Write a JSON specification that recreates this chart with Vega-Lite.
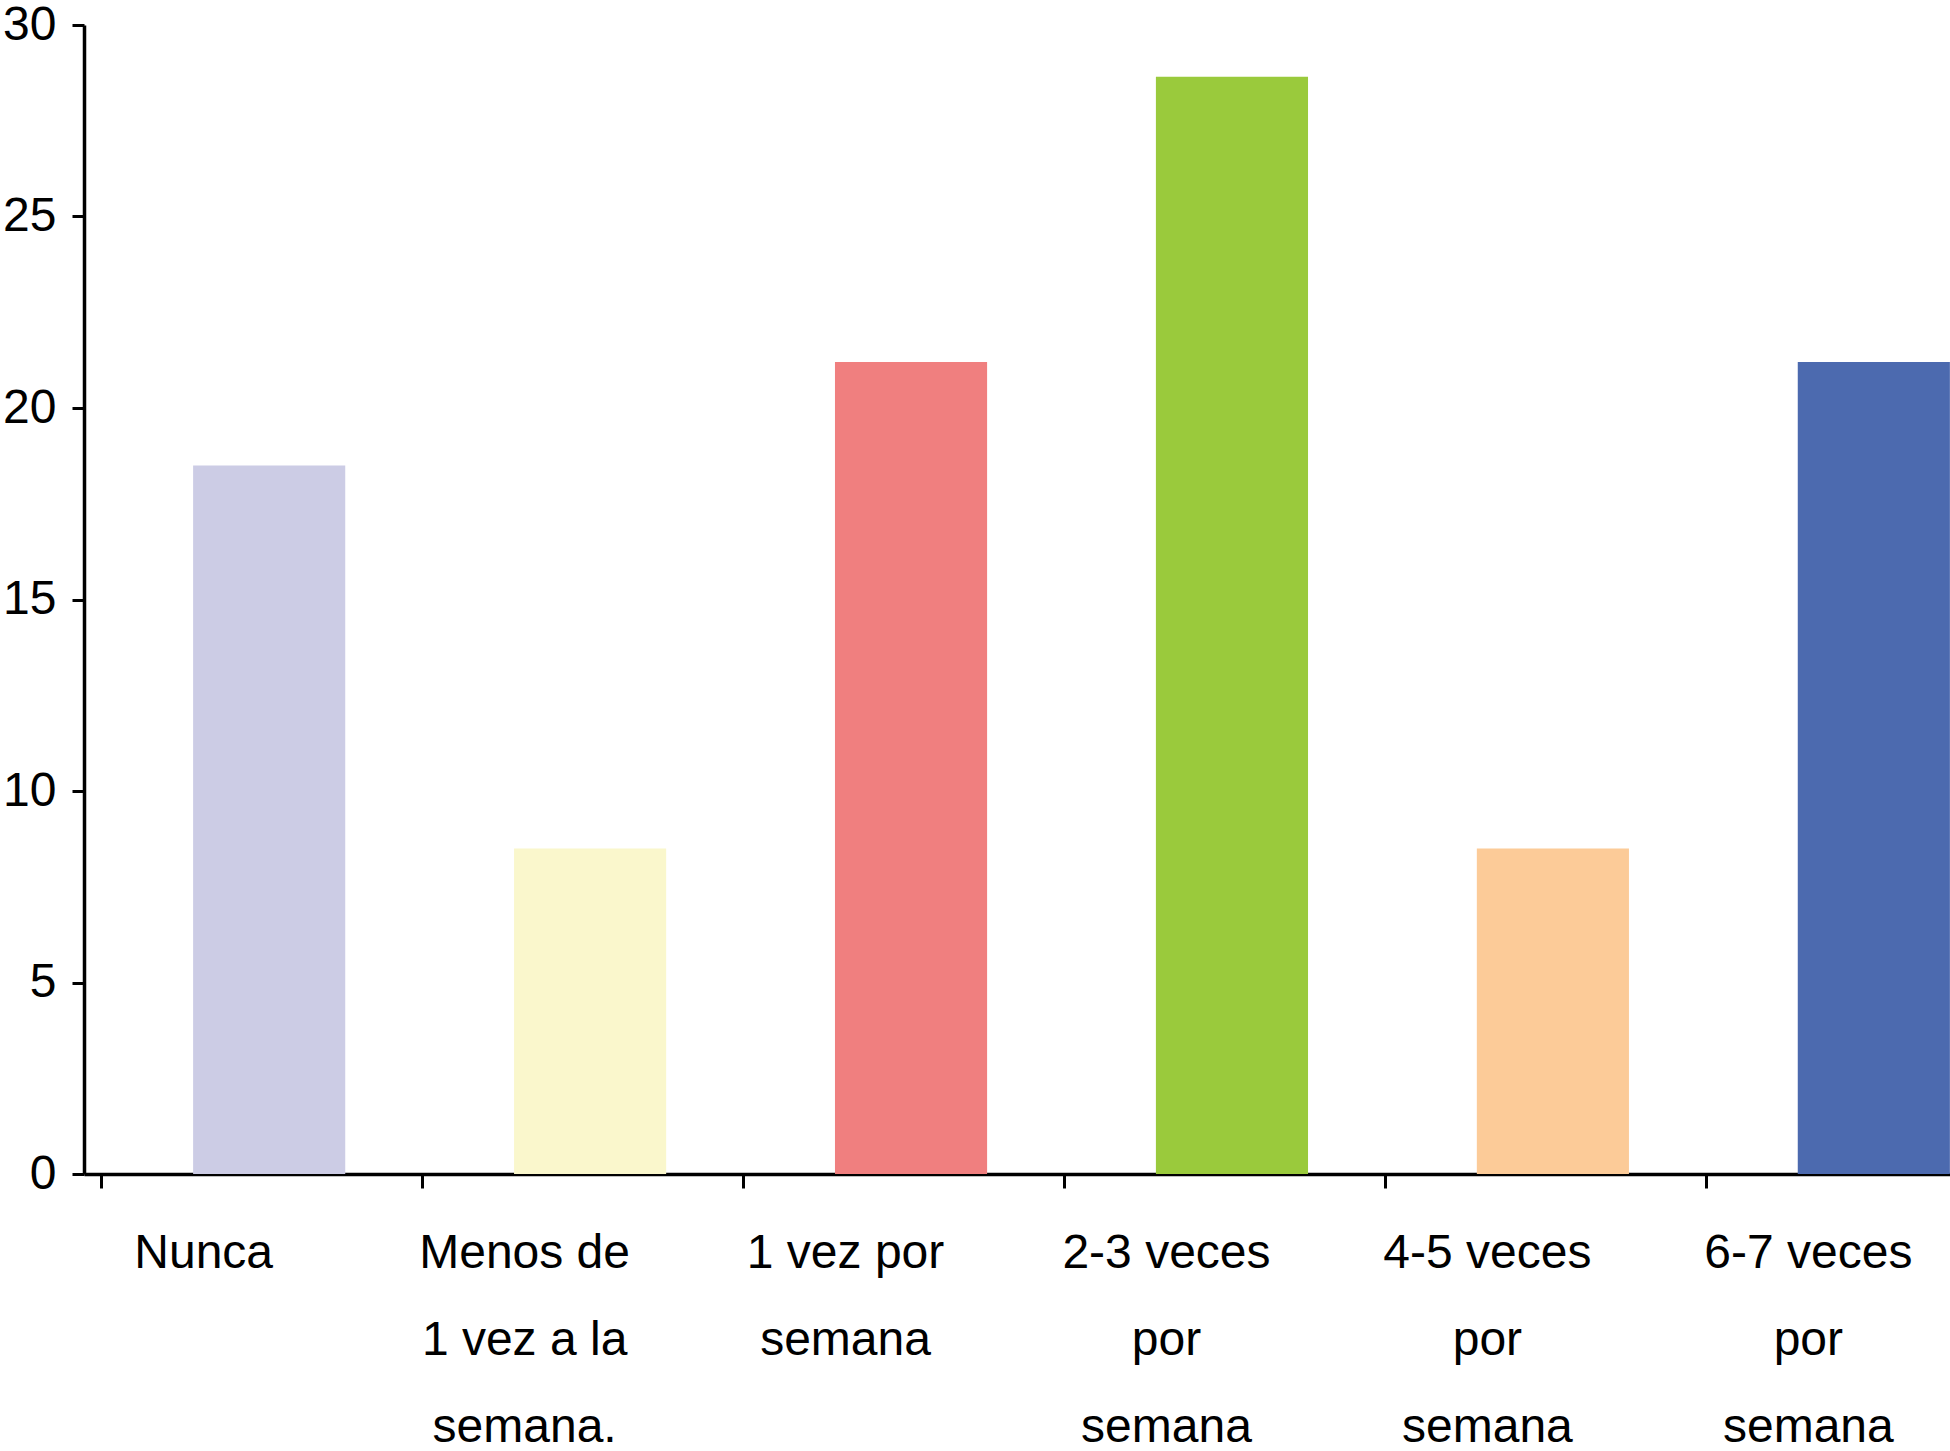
{
  "$schema": "https://vega.github.io/schema/vega-lite/v6.json",
  "width": 1866,
  "height": 1149,
  "autosize": {"type": "none"},
  "padding": {"left": 84, "top": 25, "right": 0, "bottom": 277},
  "background": "white",
  "config": {"view": {"stroke": null}, "font": "Liberation Sans"},
  "data": {
    "values": [
      {"frecuencia": "Nunca", "valor": 18.5},
      {"frecuencia": "Menos de 1 vez a la semana.", "valor": 8.5},
      {"frecuencia": "1 vez por semana", "valor": 21.2},
      {"frecuencia": "2-3 veces por semana", "valor": 28.65},
      {"frecuencia": "4-5 veces por semana", "valor": 8.5},
      {"frecuencia": "6-7 veces por semana", "valor": 21.2}
    ]
  },
  "mark": {"type": "bar", "clip": true},
  "encoding": {
    "x": {
      "field": "frecuencia",
      "type": "nominal",
      "sort": null,
      "scale": {"range": [0, 1975], "paddingInner": 0.526, "paddingOuter": 0.34},
      "axis": {
        "title": null,
        "domainColor": "black",
        "domainWidth": 3.5,
        "tickColor": "black",
        "tickWidth": 3,
        "tickSize": 14,
        "tickOffset": -168,
        "labelOffset": 102,
        "labelFontSize": 48,
        "labelColor": "black",
        "labelPadding": 41,
        "labelLineHeight": 87,
        "labelAngle": 0,
        "labelAlign": "center",
        "labelLimit": 500,
        "labelOverlap": false,
        "labelBound": false,
        "labelFlush": false,
        "labelExpr": "datum.value == 'Menos de 1 vez a la semana.' ? ['Menos de', '1 vez a la', 'semana.'] : datum.value == '1 vez por semana' ? ['1 vez por', 'semana'] : datum.value == '2-3 veces por semana' ? ['2-3 veces', 'por', 'semana'] : datum.value == '4-5 veces por semana' ? ['4-5 veces', 'por', 'semana'] : datum.value == '6-7 veces por semana' ? ['6-7 veces', 'por', 'semana'] : datum.value"
      }
    },
    "y": {
      "field": "valor",
      "type": "quantitative",
      "scale": {"domain": [0, 30], "nice": false},
      "axis": {
        "title": null,
        "grid": false,
        "values": [0, 5, 10, 15, 20, 25, 30],
        "domainColor": "black",
        "domainWidth": 3.5,
        "tickColor": "black",
        "tickWidth": 3,
        "tickSize": 12,
        "labelFontSize": 48,
        "labelColor": "black",
        "labelPadding": 16,
        "labelFlush": false,
        "labelOverlap": false
      }
    },
    "color": {
      "field": "frecuencia",
      "type": "nominal",
      "sort": null,
      "legend": null,
      "scale": {
        "domain": ["Nunca", "Menos de 1 vez a la semana.", "1 vez por semana", "2-3 veces por semana", "4-5 veces por semana", "6-7 veces por semana"],
        "range": ["#CCCCE5", "#FAF7CC", "#F07F7F", "#9ACA3C", "#FCCB98", "#4C6AAF"]
      }
    }
  }
}
